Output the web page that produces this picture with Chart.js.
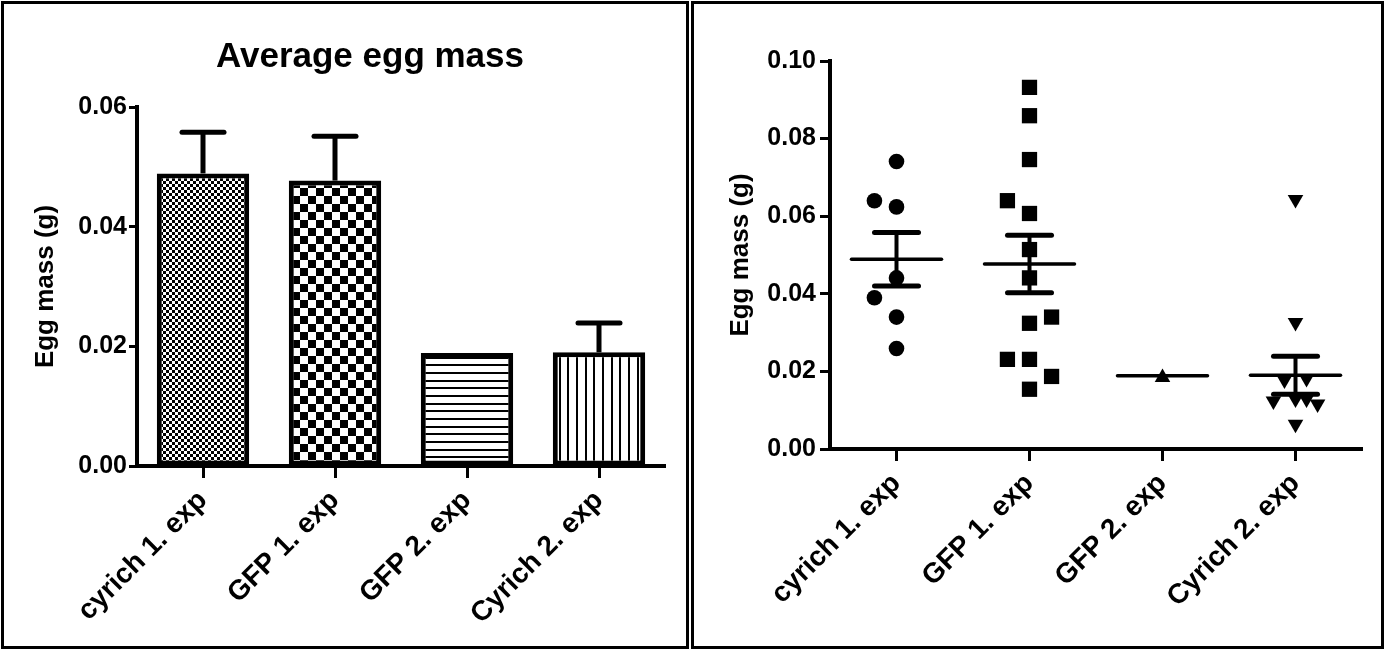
<!DOCTYPE html>
<html><head><meta charset="utf-8">
<script src="https://cdn.jsdelivr.net/npm/chart.js@4.4.1/dist/chart.umd.min.js"></script>
<style>
html,body{margin:0;padding:0;background:#fff;width:1385px;height:651px;overflow:hidden}
.panel{position:absolute;border:3px solid #000;box-sizing:border-box;background:#fff}
#p1{left:1px;top:1px;width:688px;height:648px}
#p2{left:691px;top:1px;width:693px;height:648px}
.panel canvas{display:block}
</style></head><body>
<div class="panel" id="p1"><canvas id="c1" width="682" height="642" style="width:682px;height:642px"></canvas></div>
<div class="panel" id="p2"><canvas id="c2" width="687" height="642" style="width:687px;height:642px"></canvas></div>
<script>
// ---------- data ----------
const categories = ['cyrich 1. exp', 'GFP 1. exp', 'GFP 2. exp', 'Cyrich 2. exp'];
const meanMass = [0.0489, 0.0477, 0.0189, 0.0190];
const semMass = [0.0069, 0.0074, 0, 0.0049];
const yTicksLeft = [0, 0.02, 0.04, 0.06];
const yTicksRight = [0, 0.02, 0.04, 0.06, 0.08, 0.10];
const chartTitle = 'Average egg mass';
const yAxisTitle = 'Egg mass (g)';

const cyrich1Values = [0.0741, 0.0640, 0.0624, 0.0441, 0.0390, 0.0340, 0.0259];
const cyrich1Jitter = [0, -2, 0, 0, -2, 0, 0];
const gfp1Values = [0.0932, 0.0859, 0.0746, 0.0640, 0.0607, 0.0514, 0.0441, 0.0340, 0.0324, 0.0231, 0.0231, 0.0187, 0.0154];
const gfp1Jitter = [0, 0, 0, -2, 0, 0, 0, 2, 0, -2, 0, 2, 0];
const gfp2Values = [0.0184];
const gfp2Jitter = [0];
const cyrich2Values = [0.0643, 0.0326, 0.0178, 0.0182, 0.0124, 0.0129, 0.0129, 0.0116, 0.0064];
const cyrich2Jitter = [0, 0, -1, 1, -2, 0, 1, 2, 0];

// ---------- style ----------
const FONT = "'Liberation Sans', Arial, Helvetica, sans-serif";
Chart.defaults.font.family = FONT;
Chart.defaults.font.weight = 'bold';
Chart.defaults.color = '#000';
Chart.defaults.animation = false;
const JITTER_STEP = 0.083;

function makePattern(w, h, draw) {
  const c = document.createElement('canvas');
  c.width = w; c.height = h;
  const x = c.getContext('2d');
  x.fillStyle = '#fff'; x.fillRect(0, 0, w, h);
  x.fillStyle = '#000';
  draw(x);
  return document.getElementById('c1').getContext('2d').createPattern(c, 'repeat');
}
const patFine = makePattern(6, 6, x => { x.fillRect(0, 0, 3, 3); x.fillRect(3, 3, 3, 3); });
const patCoarse = makePattern(16, 16, x => { x.fillRect(0, 0, 8, 8); x.fillRect(8, 8, 8, 8); });
const patHoriz = makePattern(8, 23, x => { x.fillRect(0, 0, 8, 2); x.fillRect(0, 8, 8, 2); x.fillRect(0, 15, 8, 2); });
const patVert = makePattern(26, 8, x => { x.fillRect(0, 0, 2, 8); x.fillRect(9, 0, 2, 8); x.fillRect(17, 0, 2, 8); });

function axisY(ticks, width, titlePad, tickLen, tickPad) {
  return {
    type: 'linear', min: ticks[0], max: ticks[ticks.length - 1],
    afterBuildTicks: s => { s.ticks = ticks.map(v => ({ value: v })); },
    afterFit: s => { s.width = width; },
    ticks: { callback: v => Number(v).toFixed(2), font: { size: 25, weight: 'bold' }, padding: tickPad, color: '#000' },
    grid: { display: true, drawOnChartArea: false, tickLength: tickLen, tickWidth: 3, tickColor: '#000', color: '#000' },
    border: { display: true, width: 4, color: '#000' },
    title: { display: true, text: yAxisTitle, font: { size: 26, weight: 'bold' }, padding: { top: titlePad, bottom: 0 }, color: '#000' }
  };
}
const xTickFont = { size: 28, weight: 'bold' };

// ---------- left: bar chart ----------
const titlePlugin = {
  id: 'panelTitle',
  afterDraw(chart) {
    const ctx = chart.ctx;
    ctx.save();
    ctx.font = 'bold 35px ' + FONT;
    ctx.fillStyle = '#000';
    ctx.textAlign = 'center';
    ctx.textBaseline = 'middle';
    ctx.fillText(chartTitle, 366, 53);
    ctx.restore();
  }
};
const errorBarPlugin = {
  id: 'errorBars',
  afterDatasetsDraw(chart) {
    const ctx = chart.ctx, y = chart.scales.y, meta = chart.getDatasetMeta(0);
    ctx.save();
    ctx.strokeStyle = '#000';
    meta.data.forEach((bar, i) => {
      const s = semMass[i];
      if (!s) return;
      const yTop = y.getPixelForValue(meanMass[i]);
      const yUp = y.getPixelForValue(meanMass[i] + s);
      ctx.lineWidth = 5; ctx.lineCap = 'butt';
      ctx.beginPath(); ctx.moveTo(bar.x, yTop); ctx.lineTo(bar.x, yUp); ctx.stroke();
      ctx.lineCap = 'round';
      ctx.beginPath(); ctx.moveTo(bar.x - 21, yUp); ctx.lineTo(bar.x + 21, yUp); ctx.stroke();
    });
    ctx.restore();
  }
};

new Chart(document.getElementById('c1'), {
  type: 'bar',
  data: {
    labels: categories,
    datasets: [{
      data: meanMass,
      backgroundColor: [patFine, patCoarse, patHoriz, patVert],
      borderColor: '#000', borderWidth: 5, borderSkipped: false,
      barPercentage: 0.70, categoryPercentage: 1
    }]
  },
  options: {
    responsive: false, animation: false,
    layout: { padding: { top: 103, right: 21, left: 0, bottom: 0 } },
    plugins: { legend: { display: false }, tooltip: { enabled: false }, title: { display: false } },
    scales: {
      x: {
        type: 'category', offset: true,
        afterFit: s => { s.height = 180; },
        ticks: { autoSkip: false, maxRotation: 45, minRotation: 45, font: xTickFont, padding: 6, color: '#000' },
        grid: { display: true, offset: false, drawOnChartArea: false, tickLength: 12, tickWidth: 3, tickColor: '#000', color: '#000' },
        border: { display: true, width: 4, color: '#000' }
      },
      y: axisY(yTicksLeft, 133, 26, 8, 2)
    }
  },
  plugins: [errorBarPlugin, titlePlugin]
});

// ---------- right: scatter (dot plot) ----------
function pts(vals, jit, idx) { return vals.map((v, k) => ({ x: idx + jit[k] * JITTER_STEP, y: v })); }
const meanPlugin = {
  id: 'meanSem',
  afterDatasetsDraw(chart) {
    const ctx = chart.ctx, x = chart.scales.x, y = chart.scales.y;
    ctx.save();
    ctx.strokeStyle = '#000';
    categories.forEach((c, i) => {
      const cx = x.getPixelForValue(i), ym = y.getPixelForValue(meanMass[i]);
      ctx.lineCap = 'round';
      ctx.lineWidth = 3.5;
      ctx.beginPath(); ctx.moveTo(cx - 45, ym); ctx.lineTo(cx + 45, ym); ctx.stroke();
      const s = semMass[i];
      if (!s) return;
      const yU = y.getPixelForValue(meanMass[i] + s), yL = y.getPixelForValue(meanMass[i] - s);
      ctx.lineCap = 'butt'; ctx.lineWidth = 4;
      ctx.beginPath(); ctx.moveTo(cx, yL); ctx.lineTo(cx, yU); ctx.stroke();
      ctx.lineCap = 'round'; ctx.lineWidth = 5;
      ctx.beginPath(); ctx.moveTo(cx - 22, yU); ctx.lineTo(cx + 22, yU); ctx.stroke();
      ctx.beginPath(); ctx.moveTo(cx - 22, yL); ctx.lineTo(cx + 22, yL); ctx.stroke();
    });
    ctx.restore();
  }
};
const mk = { backgroundColor: '#000', borderColor: '#000', borderWidth: 0, showLine: false };
new Chart(document.getElementById('c2'), {
  type: 'scatter',
  data: {
    datasets: [
      Object.assign({ data: pts(cyrich1Values, cyrich1Jitter, 0), pointStyle: 'circle', pointRadius: 7.8 }, mk),
      Object.assign({ data: pts(gfp1Values, gfp1Jitter, 1), pointStyle: 'rect', pointRadius: 10.8 }, mk),
      Object.assign({ data: pts(gfp2Values, gfp2Jitter, 2), pointStyle: 'triangle', pointRadius: 9 }, mk),
      Object.assign({ data: pts(cyrich2Values, cyrich2Jitter, 3), pointStyle: 'triangle', rotation: 180, pointRadius: 9 }, mk)
    ]
  },
  options: {
    responsive: false, animation: false,
    layout: { padding: { top: 57, right: 19, left: 0, bottom: 0 } },
    plugins: { legend: { display: false }, tooltip: { enabled: false } },
    scales: {
      x: {
        type: 'linear', min: -0.5, max: 3.5, bounds: 'data',
        afterBuildTicks: s => { s.ticks = categories.map((_, i) => ({ value: i })); },
        afterFit: s => { s.height = 197; },
        ticks: { callback: v => categories[v], autoSkip: false, maxRotation: 45, minRotation: 45, font: xTickFont, padding: 6, color: '#000' },
        grid: { display: true, drawOnChartArea: false, tickLength: 12, tickWidth: 3, tickColor: '#000', color: '#000' },
        border: { display: true, width: 4, color: '#000' }
      },
      y: axisY(yTicksRight, 136, 31, 10, 4)
    }
  },
  plugins: [meanPlugin]
});
</script>
</body></html>
